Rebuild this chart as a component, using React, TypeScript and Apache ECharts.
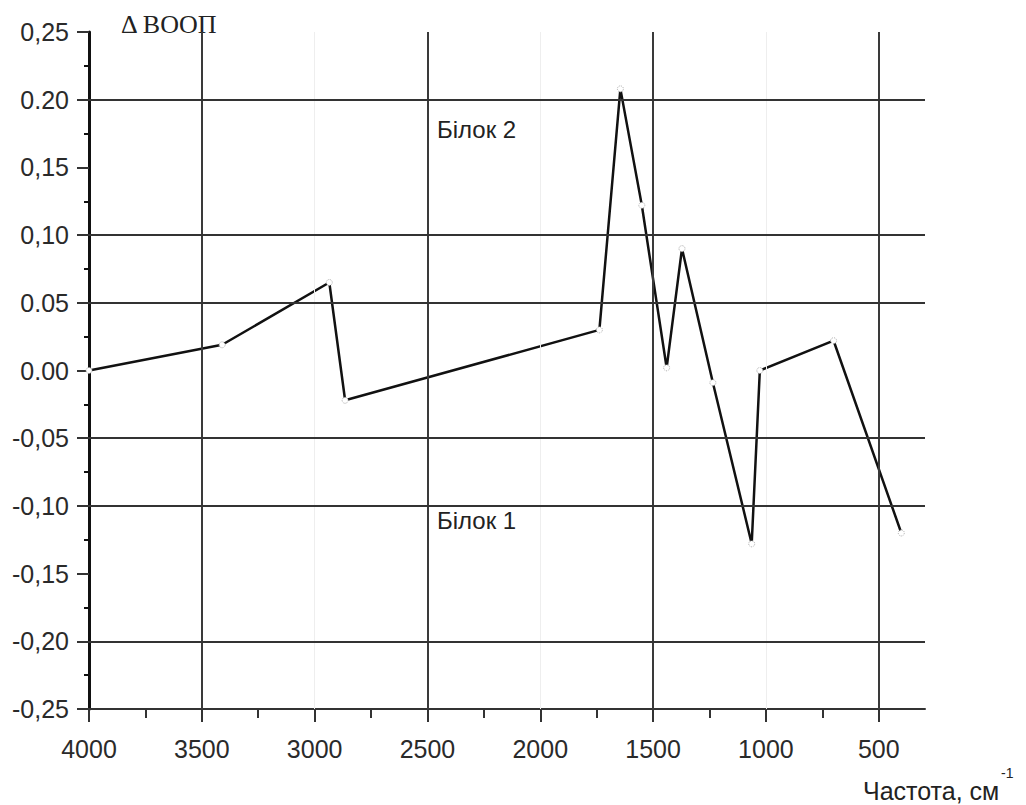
import React, { useEffect, useRef } from "react";
import * as echarts from "echarts";

// Frequency (cm^-1) and ΔBOOP values
const freq = [4000, 3410, 2935, 2865, 1738, 1645, 1550, 1440, 1372, 1235, 1063, 1027, 700, 400];
const dBoop = [0.0, 0.019, 0.065, -0.022, 0.03, 0.208, 0.122, 0.002, 0.09, -0.009, -0.128, 0.0, 0.022, -0.12];

const xMajorTicks = [4000, 3500, 3000, 2500, 2000, 1500, 1000, 500];
const xTickLabels = ["4000", "3500", "3000", "2500", "2000", "1500", "1000", "500"];
const xMinorTicks = [3750, 3250, 2750, 2250, 1750, 1250, 750];

const yTickValues = [0.25, 0.2, 0.15, 0.1, 0.05, 0, -0.05, -0.1, -0.15, -0.2, -0.25];
const yTickLabels = ["0,25", "0.20", "0,15", "0,10", "0.05", "0.00", "-0,05", "-0,10", "-0,15", "-0,20", "-0,25"];

const gridMajorX = [3500, 2500, 1500, 500];
const gridFaintX = [3000, 2000, 1000];
const gridY = [0.2, 0.1, 0.05, -0.05, -0.1, -0.2];

const annotations = [
  { text: "Білок 2", x: 437, y: 129 },
  { text: "Білок 1", x: 437, y: 520 },
];

const SANS = "'Liberation Sans', Arial, sans-serif";

export default function App() {
  const ref = useRef<HTMLDivElement>(null);

  useEffect(() => {
    if (!ref.current) return;
    const chart = echarts.init(ref.current, undefined, { renderer: "svg" });

    const xBase = {
      type: "value" as const,
      inverse: true,
      min: 295,
      max: 4000,
      position: "bottom" as const,
      splitLine: { show: false },
    };

    chart.setOption({
      animation: false,
      backgroundColor: "#fff",
      grid: { left: 89, right: 101, top: 32, bottom: 96, containLabel: false },
      xAxis: [
        {
          ...xBase,
          axisLine: { show: true, onZero: false, lineStyle: { color: "#333", width: 2 } },
          axisTick: { show: true, customValues: xMajorTicks, length: 13, lineStyle: { color: "#333", width: 2 } },
          axisLabel: {
            show: true,
            customValues: xMajorTicks,
            margin: 27,
            color: "#2a2a2a",
            fontFamily: SANS,
            fontSize: 25,
            formatter: (v: number) => {
              const i = xMajorTicks.indexOf(Math.round(v));
              return i >= 0 ? xTickLabels[i] : "";
            },
          },
        },
        {
          ...xBase,
          axisLine: { show: false, onZero: false },
          axisTick: { show: true, customValues: xMinorTicks, length: 9, lineStyle: { color: "#333", width: 2 } },
          axisLabel: { show: false },
        },
      ],
      yAxis: {
        type: "value",
        min: -0.25,
        max: 0.25,
        interval: 0.05,
        axisLine: { show: true, onZero: false, lineStyle: { color: "#111", width: 3 } },
        axisTick: { show: true, length: 12, lineStyle: { color: "#333", width: 2 } },
        minorTick: { show: true, splitNumber: 2, length: 5, lineStyle: { color: "#111", width: 2 } },
        splitLine: { show: false },
        axisLabel: {
          margin: 20,
          color: "#2a2a2a",
          fontFamily: SANS,
          fontSize: 25,
          formatter: (v: number) => {
            const i = yTickValues.findIndex((t) => Math.abs(t - v) < 1e-6);
            return i >= 0 ? yTickLabels[i] : "";
          },
        },
      },
      series: [
        {
          type: "line",
          data: [],
          z: 1,
          silent: true,
          markLine: {
            silent: true,
            symbol: "none",
            label: { show: false },
            animation: false,
            data: [
              ...gridFaintX.map((x) => ({ xAxis: x, lineStyle: { color: "#eeeeee", width: 1, type: "solid" } })),
              ...gridMajorX.map((x) => ({ xAxis: x, lineStyle: { color: "#3a3a3a", width: 2, type: "solid" } })),
              ...gridY.map((y) => ({ yAxis: y, lineStyle: { color: "#333", width: 2, type: "solid" } })),
            ],
          },
        },
        {
          type: "line",
          z: 3,
          data: freq.map((f, i) => [f, dBoop[i]]),
          lineStyle: { color: "#111", width: 2.5 },
          symbol: "circle",
          symbolSize: 6,
          itemStyle: { color: "#fff", borderColor: "#aaa", borderWidth: 1, borderType: "dotted" },
          showSymbol: true,
        },
      ],
      graphic: [
        {
          type: "text",
          left: 121,
          top: 11,
          style: { text: "Δ ВООП", font: "26px 'Liberation Serif', 'Times New Roman', serif", fill: "#222" },
        },
        ...annotations.map((a) => ({
          type: "text",
          x: a.x,
          y: a.y,
          style: {
            text: a.text,
            font: `24px ${SANS}`,
            fill: "#222",
            verticalAlign: "middle",
            align: "left",
          },
        })),
        {
          type: "text",
          x: 863,
          y: 791,
          style: { text: "Частота, см", font: `25px ${SANS}`, fill: "#222", verticalAlign: "middle", align: "left" },
        },
        {
          type: "text",
          x: 1001,
          y: 773,
          style: { text: "-1", font: `14px ${SANS}`, fill: "#222", verticalAlign: "middle", align: "left" },
        },
      ],
    });

    return () => chart.dispose();
  }, []);

  return <div ref={ref} style={{ position: "fixed", left: 0, top: 0, width: 1026, height: 805 }} />;
}
